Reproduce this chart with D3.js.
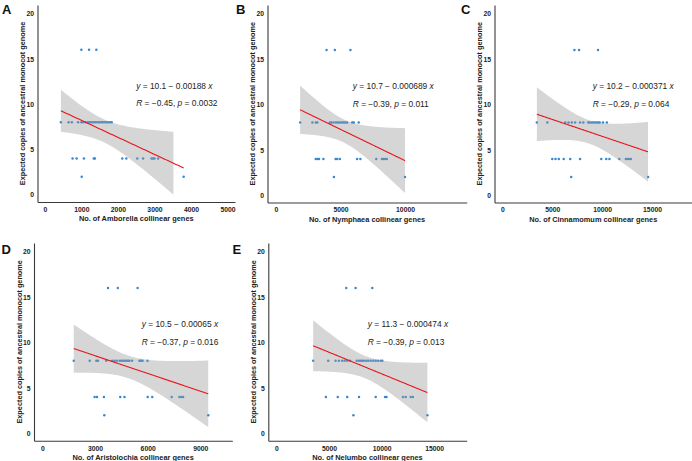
<!DOCTYPE html>
<html><head><meta charset="utf-8">
<script src="https://cdn.jsdelivr.net/npm/d3@7"></script>
<style>html,body{margin:0;padding:0;background:#fff;} svg{display:block;}</style>
</head><body><svg id="c" width="692" height="461"></svg>
<script>
// ---------------- data ----------------
const panelLetters = ["A", "B", "C", "D", "E"];
const species = ["Amborella", "Nymphaea", "Cinnamomum", "Aristolochia", "Nelumbo"];
const yTitle = "Expected copies of ancestral monocot genome";

// [collinear genes, expected copies]
const amborellaPts = [
  [1000,16],[1210,16],[1410,16],
  [440,8],[650,8],[740,8],[910,8],[1000,8],[1050,8],[1120,8],[1180,8],[1230,8],[1280,8],[1320,8],
  [1370,8],[1410,8],[1460,8],[1500,8],[1550,8],[1590,8],[1640,8],[1690,8],[1730,8],[1780,8],[1830,8],
  [760,4],[870,4],[1070,4],[1340,4],[1370,4],[2120,4],[2230,4],[2530,4],[2690,4],[2920,4],[2960,4],[3000,4],[3100,4],
  [1010,2],[3800,2]
];
const nymphaeaPts = [
  [3920,16],[4560,16],[5770,16],
  [1870,8],[2820,8],[3080,8],[3200,8],[4180,8],[4280,8],[4440,8],[4620,8],[4740,8],[4870,8],[5000,8],
  [5130,8],[5260,8],[5390,8],[5510,8],[5900,8],[6030,8],[6410,8],
  [3080,4],[3210,4],[3330,4],[3670,4],[4620,4],[4740,4],[4950,4],[6280,4],[6540,4],[7770,4],[8210,4],[8330,4],[8460,4],[8590,4],
  [4490,2],[10000,2]
];
const cinnamomumPts = [
  [7220,16],[7680,16],[9580,16],
  [3450,8],[4500,8],[6300,8],[6630,8],[6960,8],[7290,8],[7780,8],[8110,8],[8600,8],[8760,8],[8930,8],
  [9090,8],[9260,8],[9420,8],[9590,8],[9750,8],[10080,8],[10470,8],
  [4990,4],[5320,4],[5650,4],[6140,4],[6790,4],[7780,4],[9910,4],[10410,4],[10730,4],[11720,4],[12380,4],[12530,4],[12700,4],[12870,4],
  [6890,2],[14600,2]
];
const aristolochiaPts = [
  [3740,16],[4300,16],[5430,16],
  [1790,8],[2700,8],[3080,8],[3170,8],[3640,8],[3980,8],[4110,8],[4240,8],[4400,8],[4490,8],[4580,8],
  [4680,8],[4770,8],[4870,8],[4960,8],[5110,8],[5530,8],[5620,8],[5710,8],[5990,8],
  [2980,4],[3110,4],[3510,4],[4440,4],[4680,4],[6000,4],[6260,4],[7370,4],[7810,4],[7910,4],[8020,4],
  [3530,2],[9450,2]
];
const nelumboPts = [
  [6640,16],[7530,16],[9120,16],
  [3490,8],[4920,8],[5620,8],[5940,8],[6250,8],[6480,8],[6730,8],[6990,8],[7630,8],[7850,8],[8010,8],
  [8160,8],[8320,8],[8540,8],[8730,8],[8960,8],[9210,8],[9440,8],[9660,8],[9910,8],[10070,8],
  [4700,4],[5830,4],[6730,4],[7850,4],[9440,4],[10330,4],[10470,4],[12040,4],[12300,4],[12770,4],[12980,4],
  [7320,2],[14360,2]
];
const allPts = [amborellaPts, nymphaeaPts, cinnamomumPts, aristolochiaPts, nelumboPts];

const intercepts = [10.1, 10.7, 10.2, 10.5, 11.3];
const slopes = [-0.00188, -0.000689, -0.000371, -0.00065, -0.000474];
const interceptLabels = ["10.1", "10.7", "10.2", "10.5", "11.3"];
const slopeLabels = ["0.00188", "0.000689", "0.000371", "0.00065", "0.000474"];
const rLabels = ["\u22120.45", "\u22120.39", "\u22120.29", "\u22120.37", "\u22120.39"];
const pLabels = ["0.0032", "0.011", "0.064", "0.016", "0.013"];

// half-width of the 95% band at the left and right ends
const bandReadX = [[440, 3517], [1870, 10000], [3450, 14600], [1790, 9450], [3490, 14360]];
const bandReadHalf = [[2.33, 3.45], [2.8, 3.4], [3.0, 3.25], [2.77, 3.5], [2.95, 3.1]];

const xTicks = [
  [0, 1000, 2000, 3000, 4000, 5000],
  [0, 5000, 10000],
  [0, 5000, 10000, 15000],
  [0, 3000, 6000, 9000],
  [0, 5000, 10000, 15000]
];
const yTicks = [0, 5, 10, 15, 20];
const yLimits = [0, 20];
const xDomains = [[-200, 5205], [-660, 14780], [-800, 19010], [-473, 10820], [-780, 18100]];
const yDomain = [-0.8, 20.95];
const labelX = [2500, 5950, 9050, 5660, 8680];
const labelY = [11.7, 9.75];

// ---------------- layout ----------------
const frames = [
  {l: 37.5, r: 235, t: 5, b: 202},
  {l: 267.5, r: 466.7, t: 5, b: 202.5},
  {l: 494.5, r: 692, t: 5, b: 202.5},
  {l: 34, r: 232.3, t: 243, b: 440.7},
  {l: 268.3, r: 466.7, t: 243, b: 440.7}
];
const letterPos = [[2, 13.5], [236, 13.5], [461, 13.5], [1.5, 253.5], [232.5, 254]];

const FONT = "'Liberation Sans', Arial, sans-serif";
const svg = d3.select("#c");

frames.forEach((f, i) => {
  const pts = allPts[i];
  const x = d3.scaleLinear().domain(xDomains[i]).range([f.l, f.r]);
  const y = d3.scaleLinear().domain(yDomain).range([f.b, f.t]);
  const g = svg.append("g");

  // points
  g.append("g").selectAll("circle").data(pts).join("circle")
    .attr("cx", d => x(d[0])).attr("cy", d => y(d[1]))
    .attr("r", 1.25).attr("fill", "#3388d4");

  // regression line + 95% confidence band (standard OLS shape, residual SE)
  const a = intercepts[i], b = slopes[i];
  const n = pts.length;
  const mx = d3.mean(pts, d => d[0]);
  const sxx = d3.sum(pts, d => (d[0] - mx) ** 2);
  const tq = 2.02;
  const shape = xv => Math.sqrt(1 / n + (xv - mx) ** 2 / sxx);
  const sigma = d3.mean([0, 1], k => bandReadHalf[i][k] / (tq * shape(bandReadX[i][k])));
  const [x0, x1] = d3.extent(pts, d => d[0]);
  const grid = d3.range(0, 121).map(k => x0 + (x1 - x0) * k / 120);
  const band = grid.map(xv => {
    const fit = a + b * xv;
    const hw = tq * sigma * shape(xv);
    return {x: xv, lo: fit - hw, hi: fit + hw, fit};
  });
  // values outside the y scale limits are dropped (as ggplot does)
  const bandIn = band.filter(d => d.lo >= yLimits[0] && d.hi <= yLimits[1]);
  g.append("path").datum(bandIn)
    .attr("d", d3.area().x(d => x(d.x)).y0(d => y(d.lo)).y1(d => y(d.hi)))
    .attr("fill", "#999999").attr("fill-opacity", 0.4);
  g.append("path").datum(band)
    .attr("d", d3.line().x(d => x(d.x)).y(d => y(d.fit)))
    .attr("fill", "none").attr("stroke", "#e8141c").attr("stroke-width", 1.1);

  // axes
  const xa = g.append("g").attr("transform", `translate(0,${f.b})`)
    .call(d3.axisBottom(x).tickValues(xTicks[i]).tickFormat(d3.format("d")).tickSize(0).tickSizeOuter(0).tickPadding(5));
  const ya = g.append("g").attr("transform", `translate(${f.l},0)`)
    .call(d3.axisLeft(y).tickValues(yTicks).tickSize(0).tickSizeOuter(0).tickPadding(3.5));
  [xa, ya].forEach(ax => {
    ax.select(".domain").attr("stroke", "#3a3a3a").attr("stroke-width", 1.1);
    ax.selectAll("text").attr("font-family", FONT).attr("font-weight", "bold")
      .attr("font-size", 6.8).attr("fill", "#222");
  });

  // axis titles
  g.append("text").attr("x", (f.l + f.r) / 2).attr("y", f.b + 19)
    .attr("text-anchor", "middle").attr("font-family", FONT).attr("font-weight", "bold")
    .attr("font-size", 7.4).attr("fill", "#222")
    .text(`No. of ${species[i]} collinear genes`);
  g.append("text")
    .attr("transform", `translate(${f.l - 12.5},${(f.t + f.b) / 2}) rotate(-90)`)
    .attr("text-anchor", "middle").attr("font-family", FONT).attr("font-weight", "bold")
    .attr("font-size", 7.3).attr("fill", "#222").text(yTitle);

  // annotations
  const eq = g.append("text").attr("x", x(labelX[i])).attr("y", y(labelY[0]))
    .attr("font-family", FONT).attr("font-size", 8.4).attr("fill", "#222");
  eq.append("tspan").attr("font-style", "italic").text("y");
  eq.append("tspan").text(` = ${interceptLabels[i]} \u2212 ${slopeLabels[i]} `);
  eq.append("tspan").attr("font-style", "italic").text("x");
  const rt = g.append("text").attr("x", x(labelX[i])).attr("y", y(labelY[1]))
    .attr("font-family", FONT).attr("font-size", 8.4).attr("fill", "#222");
  rt.append("tspan").attr("font-style", "italic").text("R");
  rt.append("tspan").text(` = ${rLabels[i]}, `);
  rt.append("tspan").attr("font-style", "italic").text("p");
  rt.append("tspan").text(` = ${pLabels[i]}`);

  // panel letter
  svg.append("text").attr("x", letterPos[i][0]).attr("y", letterPos[i][1])
    .attr("font-family", FONT).attr("font-weight", "bold").attr("font-size", 13)
    .attr("fill", "#111").text(panelLetters[i]);
});
</script></body></html>
